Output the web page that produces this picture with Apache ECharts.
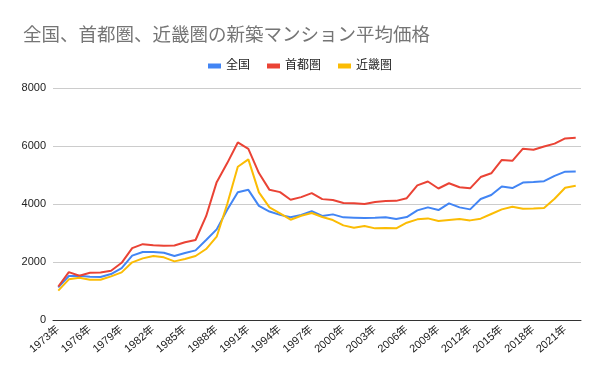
<!DOCTYPE html>
<html><head><meta charset="utf-8">
<script src="https://cdn.jsdelivr.net/npm/echarts@6/dist/echarts.min.js"></script>
<style>html,body{margin:0;padding:0;background:#fff}#c{width:600px;height:371px}</style>
</head><body><div id="c"></div>
<script>
const years = [];
for (let y = 1973; y <= 2022; y++) years.push(y + '年');
const zenkoku = [1126,1517,1528,1494,1482,1586,1792,2218,2344,2344,2321,2206,2310,2401,2758,3125,3800,4405,4488,3935,3740,3625,3540,3625,3750,3590,3642,3540,3530,3520,3530,3545,3485,3550,3780,3884,3792,4022,3884,3815,4171,4309,4605,4550,4739,4759,4787,4971,5115,5121];
const shutoken = [1156,1652,1528,1627,1637,1699,1972,2477,2615,2580,2557,2569,2683,2758,3579,4753,5411,6123,5900,5066,4488,4409,4148,4238,4374,4168,4138,4034,4026,4003,4069,4104,4108,4200,4644,4775,4535,4716,4578,4540,4929,5060,5518,5490,5908,5871,5980,6083,6260,6288];
const kinki = [1011,1402,1459,1390,1390,1505,1643,1988,2125,2206,2160,2022,2103,2206,2447,2873,4000,5285,5538,4401,3884,3677,3458,3596,3688,3550,3447,3263,3183,3240,3160,3171,3160,3355,3470,3504,3412,3447,3481,3435,3493,3654,3815,3907,3838,3849,3861,4182,4562,4630];
const yTicks = ['0','2000','4000','6000','8000'];
const names = ['全国','首都圏','近畿圏'];
const colors = ['#4285F4','#EA4335','#FBBC04'];
const ff = 'Arial, "Liberation Sans", "Noto Sans CJK JP", sans-serif';
const chart = echarts.init(document.getElementById('c'), null, {renderer:'canvas'});
chart.setOption({
  animation: false,
  color: colors,
  title: {text: '全国、首都圏、近畿圏の新築マンション平均価格', left: 18, top: 22,
    textStyle: {fontSize: 18.5, fontWeight: 'normal', color: '#757575', fontFamily: ff}},
  legend: {top: 55, left: 'center', itemWidth: 13, itemHeight: 5, itemGap: 17,
    icon: 'rect', textStyle: {fontSize: 12, color: '#222', fontFamily: ff},
    data: names},
  grid: {left: 53, right: 19, top: 88, bottom: 51, containLabel: false},
  xAxis: {type: 'category', data: years, boundaryGap: true,
    axisLine: {lineStyle: {color: '#333', width: 1}},
    axisTick: {show: false},
    axisLabel: {interval: 2, rotate: 40, fontSize: 11, color: '#222', fontFamily: ff, margin: 8}},
  yAxis: {type: 'value', min: 0, max: 8000, interval: 2000,
    axisLine: {show: false}, axisTick: {show: false},
    splitLine: {lineStyle: {color: '#cccccc'}},
    axisLabel: {fontSize: 11, color: '#222', fontFamily: ff, margin: 7,
      formatter: function (v) { const i = yTicks.indexOf(String(v)); return i >= 0 ? yTicks[i] : String(v); }}},
  series: [
    {name: names[0], type: 'line', data: zenkoku, symbol: 'none', lineStyle: {width: 2}},
    {name: names[1], type: 'line', data: shutoken, symbol: 'none', lineStyle: {width: 2}},
    {name: names[2], type: 'line', data: kinki, symbol: 'none', lineStyle: {width: 2}}
  ]
});
</script></body></html>
